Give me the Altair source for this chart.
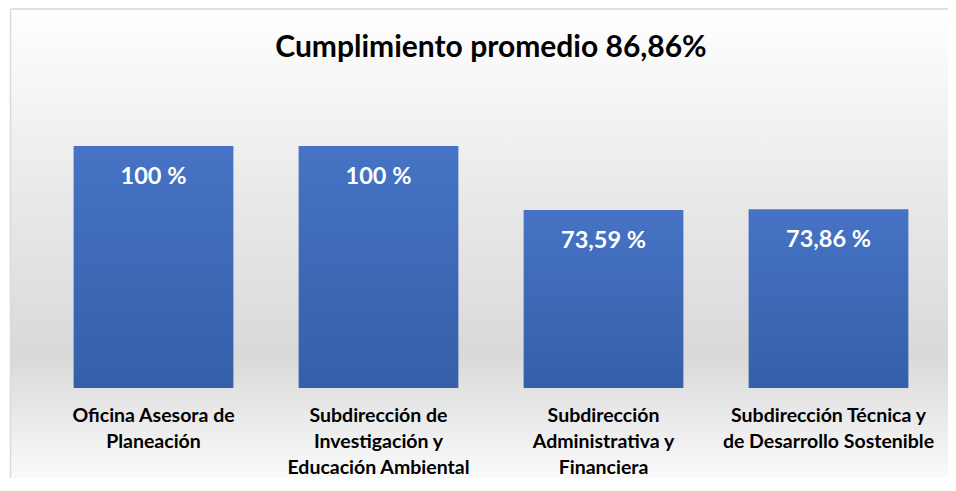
import altair as alt
import pandas as pd

categories = [
    "Oficina Asesora de\nPlaneación",
    "Subdirección de\nInvestigación y\nEducación Ambiental",
    "Subdirección\nAdministrativa y\nFinanciera",
    "Subdirección Técnica y\nde Desarrollo Sostenible",
]
values = [100, 100, 73.59, 73.86]
value_labels = ["100 %", "100 %", "73,59 %", "73,86 %"]
title_text = "Cumplimiento promedio 86,86%"

df = pd.DataFrame({"area": categories, "valor": values, "etiqueta": value_labels})
title_df = pd.DataFrame({"titulo": [title_text]})

FONT = "Lato"
W, H = 900, 242

bg_gradient = alt.LinearGradient(
    gradient="linear", x1=0, x2=0, y1=0, y2=1,
    stops=[
        alt.GradientStop(color="#ffffff", offset=0),
        alt.GradientStop(color="#e9e9e9", offset=0.4),
        alt.GradientStop(color="#d9d9d9", offset=0.74),
        alt.GradientStop(color="#fafafa", offset=1),
    ],
)
bar_gradient = alt.LinearGradient(
    gradient="linear", x1=0, x2=0, y1=0, y2=1,
    stops=[
        alt.GradientStop(color="#4673c5", offset=0),
        alt.GradientStop(color="#355fa9", offset=1),
    ],
)

background = alt.Chart(title_df).mark_rect(color=bg_gradient).encode(
    x=alt.value(-31), x2=alt.value(W + 7), y=alt.value(-138), y2=alt.value(H + 90)
)
border_left = alt.Chart(title_df).mark_rule(color="#d9d9d9", strokeWidth=1.5).encode(
    x=alt.value(-30.5), y=alt.value(-137), y2=alt.value(H + 90)
)
border_top = alt.Chart(title_df).mark_rule(color="#d9d9d9", strokeWidth=1.5).encode(
    x=alt.value(-30.5), x2=alt.value(W + 7), y=alt.value(-137)
)
title_mark = alt.Chart(title_df).mark_text(
    font=FONT, fontSize=30, fontWeight="bold", color="#000000",
    align="center", baseline="alphabetic",
).encode(x=alt.value(W / 2), y=alt.value(-89), text="titulo:N")

x_scale = alt.Scale(paddingInner=0.29, paddingOuter=0.145)
x_enc = alt.X(
    "area:N", sort=categories, title=None, scale=x_scale,
    axis=alt.Axis(
        labelExpr="split(datum.label, '\\n')", labelAngle=0, labelFont=FONT,
        labelFontSize=19.5, labelFontWeight="bold", labelColor="#000000",
        labelLineHeight=26, labelBaseline="alphabetic", labelPadding=33,
        ticks=False, tickSize=0, domain=False, labelLimit=300, zindex=2,
    ),
)
y_enc = alt.Y("valor:Q", scale=alt.Scale(domain=[0, 100]), axis=None)

bars = alt.Chart(df).mark_bar(color=bar_gradient).encode(x=x_enc, y=y_enc)
texts = alt.Chart(df).mark_text(
    color="white", font=FONT, fontSize=23.5, fontWeight="bold",
    baseline="alphabetic", dy=38,
).encode(x=x_enc, y=y_enc, text="etiqueta:N")

chart = alt.layer(background, border_left, border_top, title_mark, bars, texts).properties(
    width=W, height=H,
    autosize=alt.AutoSizeParams(type="none"),
    padding={"left": 33, "top": 138, "right": 7, "bottom": 90},
).configure_view(stroke=None).configure(background="white")

chart.save("out.html", embed_options={"renderer": "svg", "actions": False})
